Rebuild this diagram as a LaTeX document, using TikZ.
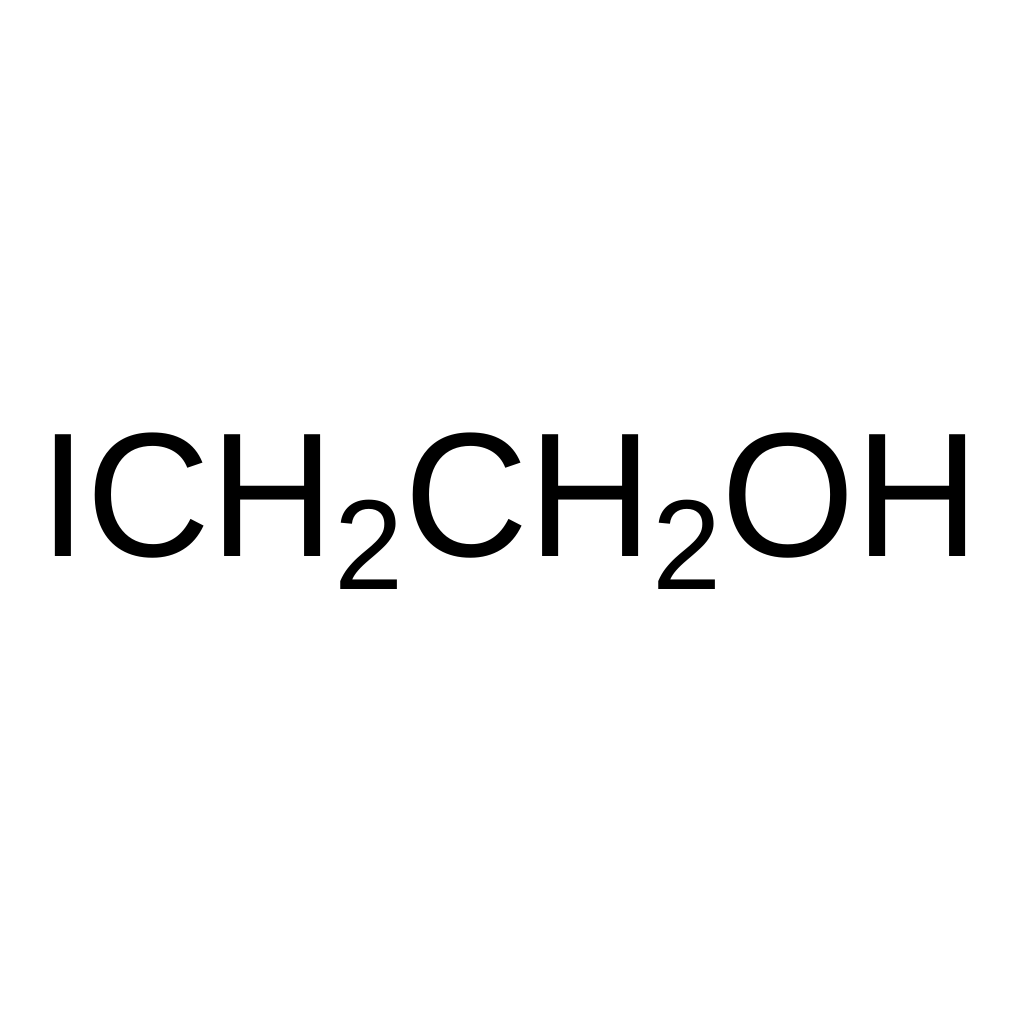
\documentclass[tikz,border=0pt]{standalone}
\usepackage{fontspec}
\setmainfont{Liberation Sans}
\newcommand{\subtwo}{{\fontsize{128}{130}\selectfont\raisebox{-33pt}{2}}}
\tikzset{formula/.style={inner sep=0pt, outer sep=0pt, font=\fontsize{177}{200}\selectfont, xscale=0.971, transform shape}}
\begin{document}
\begin{tikzpicture}[x=1pt,y=1pt]
\useasboundingbox[fill=white] (0,0) rectangle (1024,1024);
\node[formula, anchor=base west] (f) at (39,467) {ICH\subtwo CH\subtwo OH};
\end{tikzpicture}
\end{document}
